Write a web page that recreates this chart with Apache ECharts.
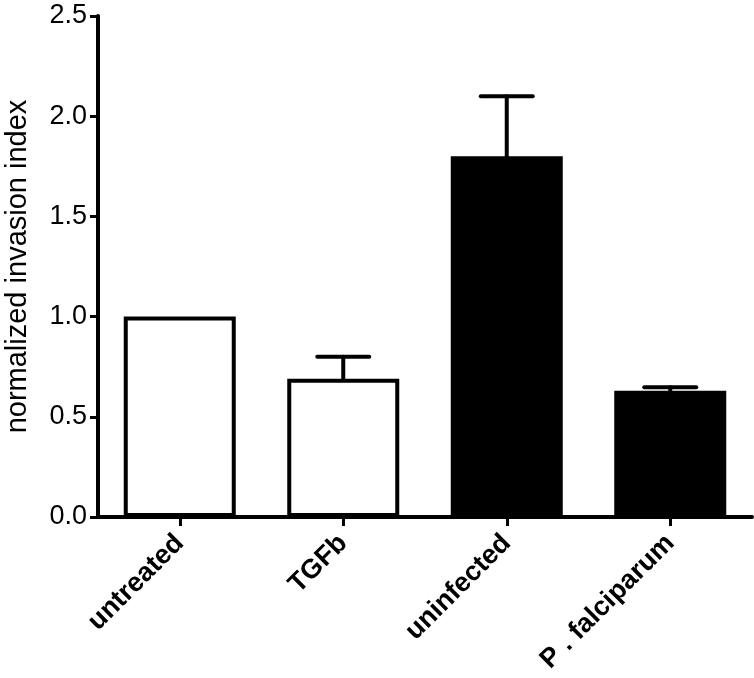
<!DOCTYPE html>
<html>
<head>
<meta charset="utf-8">
<script src="https://cdn.jsdelivr.net/npm/echarts@6/dist/echarts.min.js"></script>
<style>
html,body{margin:0;padding:0;background:#fff;}
#chart{width:754px;height:678px;}
</style>
</head>
<body>
<div id="chart"></div>
<script>
var categories = ['untreated', 'TGFb', 'uninfected', 'P . falciparum'];
var means = [1.0, 0.69, 1.80, 0.63];
var sem = [0, 0.11, 0.30, 0.018];
var fills = ['#ffffff', '#ffffff', '#000000', '#000000'];
var yTicks = [0, 0.5, 1.0, 1.5, 2.0, 2.5];

var chart = echarts.init(document.getElementById('chart'), null, {renderer: 'canvas'});
var font = 'Liberation Sans, Arial, Helvetica, sans-serif';

var barData = means.map(function (v, i) {
  return {value: v, itemStyle: {color: fills[i], borderColor: '#000', borderWidth: 4}};
});
var errData = means.map(function (v, i) { return [i, v, v + sem[i]]; });

chart.setOption({
  animation: false,
  backgroundColor: '#fff',
  grid: {left: 98, right: 2, top: 16, bottom: 161, containLabel: false, outerBoundsMode: 'none'},
  xAxis: {
    type: 'category',
    data: categories,
    axisLine: {lineStyle: {color: '#000', width: 4}},
    axisTick: {show: true, alignWithLabel: true, length: 9, lineStyle: {color: '#000', width: 3}},
    axisLabel: {rotate: 45, color: '#000', fontFamily: font, fontWeight: 'bold', fontSize: 27, margin: 22, interval: 0},
    splitLine: {show: false}
  },
  yAxis: {
    type: 'value',
    min: yTicks[0],
    max: yTicks[yTicks.length - 1],
    interval: 0.5,
    name: 'normalized invasion index',
    nameLocation: 'middle',
    nameGap: 66,
    nameTextStyle: {color: '#000', fontFamily: font, fontSize: 29},
    axisLine: {show: true, lineStyle: {color: '#000', width: 4}},
    axisTick: {show: true, length: 8, lineStyle: {color: '#000', width: 3}},
    axisLabel: {color: '#000', fontFamily: font, fontSize: 27, margin: 11, formatter: function (v) { return v.toFixed(1); }},
    splitLine: {show: false}
  },
  series: [
    {
      type: 'bar',
      data: barData,
      barWidth: 112,
      z: 2
    },
    {
      type: 'custom',
      data: errData,
      z: 3,
      renderItem: function (params, api) {
        var i = api.value(0);
        var lo = api.coord([i, api.value(1)]);
        var hi = api.coord([i, api.value(2)]);
        if (Math.abs(lo[1] - hi[1]) < 0.5) return null;
        var hw = 26;
        var st = {stroke: '#000', lineWidth: 4, lineCap: 'round'};
        return {
          type: 'group',
          children: [
            {type: 'line', shape: {x1: lo[0], y1: lo[1], x2: hi[0], y2: hi[1]}, style: st},
            {type: 'line', shape: {x1: hi[0] - hw, y1: hi[1], x2: hi[0] + hw, y2: hi[1]}, style: st}
          ]
        };
      }
    }
  ]
});
</script>
</body>
</html>
